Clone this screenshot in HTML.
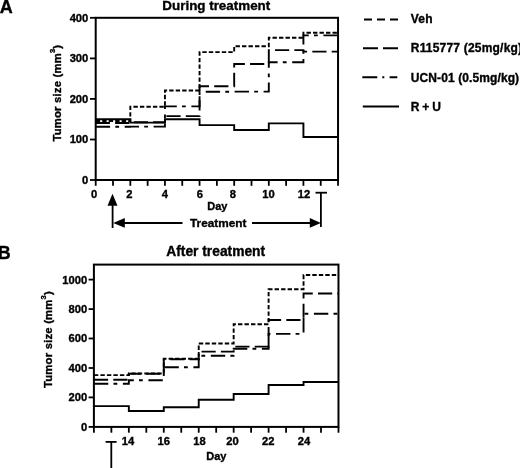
<!DOCTYPE html>
<html><head><meta charset="utf-8"><title>Figure</title>
<style>
html,body{margin:0;padding:0;background:#fff;}
svg{display:block;font-family:"Liberation Sans",Arial,Helvetica,sans-serif;font-weight:bold;fill:#000;}
.tk text{font-size:11.2px;}
text{stroke:#000;stroke-width:0.35px;}
.data path{fill:none;stroke:#000;stroke-width:1.9;}
</style></head><body>
<svg width="520" height="468" viewBox="0 0 520 468">
<rect width="520" height="468" fill="#fff"/>
<text x="-0.2" y="12.6" font-size="18">A</text>
<text x="-2" y="258.5" font-size="17.5">B</text>
<text x="216.3" y="10.2" font-size="13.4" text-anchor="middle">During treatment</text>
<text x="215.7" y="256.2" font-size="13.8" text-anchor="middle">After treatment</text>
<rect x="95.7" y="17.8" width="242.34" height="162.20" fill="none" stroke="#000" stroke-width="2"/>
<g stroke="#000" stroke-width="1.8">
<line x1="90" x2="95.7" y1="17.8" y2="17.8"/><line x1="90" x2="95.7" y1="58.4" y2="58.4"/><line x1="90" x2="95.7" y1="98.9" y2="98.9"/><line x1="90" x2="95.7" y1="139.5" y2="139.5"/><line x1="90" x2="95.7" y1="180" y2="180"/><line x1="95.70" x2="95.70" y1="180" y2="185.8"/><line x1="113.01" x2="113.01" y1="180" y2="185.8"/><line x1="130.32" x2="130.32" y1="180" y2="185.8"/><line x1="147.63" x2="147.63" y1="180" y2="185.8"/><line x1="164.94" x2="164.94" y1="180" y2="185.8"/><line x1="182.25" x2="182.25" y1="180" y2="185.8"/><line x1="199.56" x2="199.56" y1="180" y2="185.8"/><line x1="216.87" x2="216.87" y1="180" y2="185.8"/><line x1="234.18" x2="234.18" y1="180" y2="185.8"/><line x1="251.49" x2="251.49" y1="180" y2="185.8"/><line x1="268.80" x2="268.80" y1="180" y2="185.8"/><line x1="286.11" x2="286.11" y1="180" y2="185.8"/><line x1="303.42" x2="303.42" y1="180" y2="185.8"/><line x1="320.73" x2="320.73" y1="180" y2="185.8"/><line x1="338.04" x2="338.04" y1="180" y2="185.8"/></g>
<g class="tk">
<text x="88.3" y="21.70" text-anchor="end">400</text><text x="88.3" y="62.30" text-anchor="end">300</text><text x="88.3" y="102.80" text-anchor="end">200</text><text x="88.3" y="143.40" text-anchor="end">100</text><text x="88.3" y="183.90" text-anchor="end">0</text><text x="94.00" y="198.20" text-anchor="middle">0</text><text x="129.32" y="198.20" text-anchor="middle">2</text><text x="164.94" y="198.20" text-anchor="middle">4</text><text x="199.96" y="198.20" text-anchor="middle">6</text><text x="232.78" y="198.20" text-anchor="middle">8</text><text x="268.60" y="198.20" text-anchor="middle">10</text><text x="303.92" y="198.20" text-anchor="middle">12</text></g>

<g class="data">
<path d="M95.70 121.00 H130.32 V106.70 H164.94 V90.50 H199.56 V52.10 H234.18 V46.30 H268.80 V37.80 H303.42 V32.80 H338.04" stroke-dasharray="4.4 2.1"/>
<path d="M95.70 123.00 H130.32 V122.30 H164.94 V116.10 H199.56 V86.30 H234.18 V64.00 H268.80 V50.10 H303.42 V51.60 H338.04" stroke-dasharray="14.2 5.2"/>
<path d="M95.70 126.70 H130.32 V126.60 H164.94 V106.40 H199.56 V91.70 H234.18 V91.60 H268.80 V62.20 H303.42 V35.40 H338.04" stroke-dasharray="14.4 5.2 3.8 5.6"/>
<path d="M95.70 119.30 H130.32 V122.60 H164.94 V119.20 H199.56 V125.10 H234.18 V130.00 H268.80 V123.40 H303.42 V137.00 H338.04"/>
</g>
<rect x="93.9" y="264.6" width="244.58" height="162.30" fill="none" stroke="#000" stroke-width="2"/>
<g stroke="#000" stroke-width="1.8">
<line x1="88.6" x2="93.9" y1="279.6" y2="279.6"/><line x1="88.6" x2="93.9" y1="309.1" y2="309.1"/><line x1="88.6" x2="93.9" y1="338.5" y2="338.5"/><line x1="88.6" x2="93.9" y1="368" y2="368"/><line x1="88.6" x2="93.9" y1="397.4" y2="397.4"/><line x1="88.6" x2="93.9" y1="426.9" y2="426.9"/><line x1="93.90" x2="93.90" y1="426.9" y2="432.7"/><line x1="111.37" x2="111.37" y1="426.9" y2="432.7"/><line x1="128.84" x2="128.84" y1="426.9" y2="432.7"/><line x1="146.31" x2="146.31" y1="426.9" y2="432.7"/><line x1="163.78" x2="163.78" y1="426.9" y2="432.7"/><line x1="181.25" x2="181.25" y1="426.9" y2="432.7"/><line x1="198.72" x2="198.72" y1="426.9" y2="432.7"/><line x1="216.19" x2="216.19" y1="426.9" y2="432.7"/><line x1="233.66" x2="233.66" y1="426.9" y2="432.7"/><line x1="251.13" x2="251.13" y1="426.9" y2="432.7"/><line x1="268.60" x2="268.60" y1="426.9" y2="432.7"/><line x1="286.07" x2="286.07" y1="426.9" y2="432.7"/><line x1="303.54" x2="303.54" y1="426.9" y2="432.7"/><line x1="321.01" x2="321.01" y1="426.9" y2="432.7"/><line x1="338.48" x2="338.48" y1="426.9" y2="432.7"/></g>
<g class="tk">
<text x="87.2" y="283.50" text-anchor="end">1000</text><text x="87.2" y="313.00" text-anchor="end">800</text><text x="87.2" y="342.40" text-anchor="end">600</text><text x="87.2" y="371.90" text-anchor="end">400</text><text x="87.2" y="401.30" text-anchor="end">200</text><text x="87.2" y="430.80" text-anchor="end">0</text><text x="128.04" y="445.10" text-anchor="middle">14</text><text x="163.78" y="445.10" text-anchor="middle">16</text><text x="199.52" y="445.10" text-anchor="middle">18</text><text x="232.46" y="445.10" text-anchor="middle">20</text><text x="268.20" y="445.10" text-anchor="middle">22</text><text x="304.04" y="445.10" text-anchor="middle">24</text></g>

<g class="data">
<path d="M93.90 375.10 H128.84 V373.50 H163.78 V358.80 H198.72 V343.50 H233.66 V324.20 H268.60 V289.30 H303.54 V275.00 H338.48" stroke-dasharray="4.4 2.1"/>
<path d="M93.90 379.80 H128.84 V373.70 H163.78 V359.20 H198.72 V351.60 H233.66 V346.60 H268.60 V320.00 H303.54 V293.50 H338.48" stroke-dasharray="14.2 5.2"/>
<path d="M93.90 383.80 H128.84 V380.30 H163.78 V367.30 H198.72 V355.70 H233.66 V348.80 H268.60 V333.90 H303.54 V313.80 H338.48" stroke-dasharray="14.4 5.2 3.8 5.6"/>
<path d="M93.90 406.10 H128.84 V411.00 H163.78 V407.30 H198.72 V399.70 H233.66 V394.00 H268.60 V385.00 H303.54 V382.00 H338.48"/>
</g>
<text transform="translate(60.7,141.6) rotate(-90)" font-size="11.3" letter-spacing="0.2">Tumor size (mm<tspan dy="-5.7" font-size="7.5">3</tspan><tspan dy="5.7">)</tspan></text>
<text transform="translate(51.8,388) rotate(-90)" font-size="11.3" letter-spacing="0.2">Tumor size (mm<tspan dy="-5.7" font-size="7.5">3</tspan><tspan dy="5.7">)</tspan></text>
<text x="217.3" y="209.6" font-size="11" text-anchor="middle">Day</text>
<text x="216.3" y="460" font-size="11" text-anchor="middle">Day</text>
<text x="218.2" y="226.6" font-size="11.8" text-anchor="middle">Treatment</text>
<!-- arrows -->
<g stroke="#000" stroke-width="1.8" fill="none">
<line x1="112.6" y1="204" x2="112.6" y2="228"/>
<line x1="123" y1="223" x2="182.5" y2="223"/>
<line x1="252" y1="223" x2="311" y2="223"/>
<line x1="320.9" y1="192.7" x2="320.9" y2="227"/>
<line x1="315.5" y1="192.7" x2="327" y2="192.7"/>
<line x1="111.3" y1="441.9" x2="111.3" y2="468"/>
<line x1="105.6" y1="441.9" x2="116.6" y2="441.9"/>
</g>
<polygon points="112.5,193.7 107.5,205.7 117.5,205.7"/>
<polygon points="113.2,222.9 124.8,218 124.8,227.8"/>
<polygon points="320.8,222.9 309.8,218.1 309.8,227.7"/>
<!-- legend -->
<g stroke="#000" stroke-width="2" fill="none">
<line x1="364" y1="19.4" x2="398" y2="19.4" stroke-dasharray="8 5"/>
<line x1="363" y1="48.3" x2="398" y2="48.3" stroke-dasharray="15 5"/>
<line x1="362.3" y1="77.2" x2="397.3" y2="77.2" stroke-dasharray="15 5 2 5.3"/>
<line x1="362.8" y1="106.6" x2="399" y2="106.6"/>
</g>
<g font-size="12" letter-spacing="0.2">
<text x="410.8" y="23.1">Veh</text>
<text x="410.8" y="52.1">R115777 (25mg/kg)</text>
<text x="410.8" y="81.5" letter-spacing="0.1">UCN-01 (0.5mg/kg)</text>
<text x="410.8" y="111.1" letter-spacing="-0.25">R + U</text>
</g>
</svg>
</body></html>
